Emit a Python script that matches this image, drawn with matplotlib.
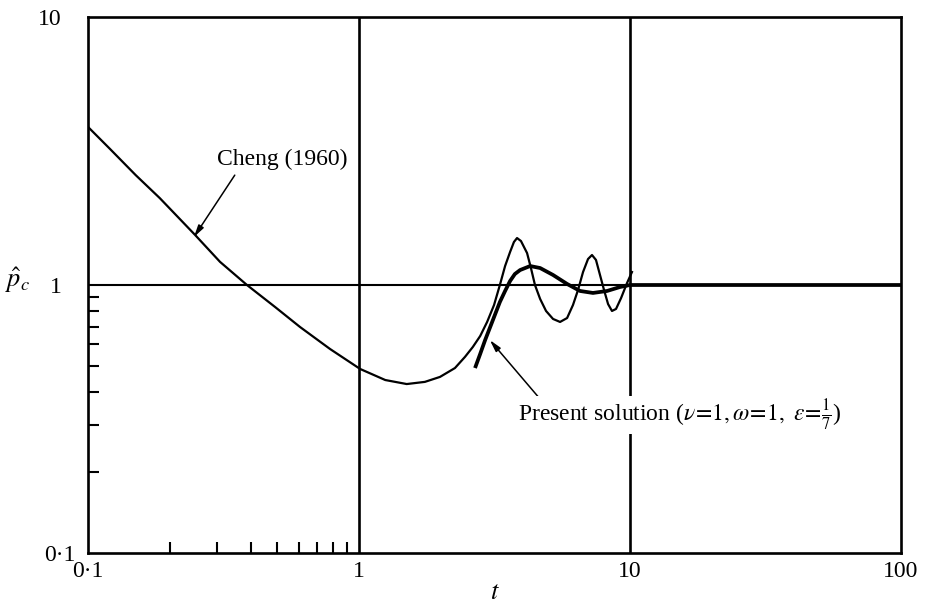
import matplotlib
matplotlib.use("Agg")
import matplotlib.pyplot as plt
import matplotlib.transforms as mtransforms

plt.rcParams['font.family'] = ['Liberation Serif', 'DejaVu Serif']
plt.rcParams['mathtext.fontset'] = 'stix'

# Cheng (1960) curve
cheng_t = [0.1, 0.1205, 0.150, 0.184, 0.248, 0.307, 0.386, 0.490, 0.606, 0.782,
           1.01, 1.25, 1.50, 1.75, 1.99, 2.26, 2.46, 2.63, 2.80, 2.97, 3.15,
           3.31, 3.46, 3.61, 3.73, 3.83, 3.96, 4.17, 4.31, 4.46, 4.66, 4.90,
           5.20, 5.52, 5.86, 6.16, 6.43, 6.71, 7.00, 7.24, 7.49, 7.75, 8.02,
           8.30, 8.58, 8.88, 9.27, 9.75, 10.17]
cheng_p = [3.89, 3.22, 2.57, 2.11, 1.54, 1.22, 1.0, 0.828, 0.697, 0.577,
           0.486, 0.442, 0.427, 0.435, 0.454, 0.490, 0.539, 0.587, 0.645, 0.728, 0.842,
           1.0, 1.177, 1.328, 1.447, 1.497, 1.459, 1.316, 1.157, 1.0, 0.887, 0.800,
           0.747, 0.728, 0.753, 0.842, 0.958, 1.118, 1.250, 1.294, 1.240, 1.090, 0.958,
           0.849, 0.800, 0.814, 0.894, 1.017, 1.118]

# Present solution (nu=1, omega=1, eps=1/7)
present_t = [2.68, 2.80, 2.92, 3.10, 3.31, 3.46, 3.61, 3.76, 3.93, 4.28, 4.66,
             5.20, 5.86, 6.54, 7.30, 8.23, 9.19, 10.0, 100.0]
present_p = [0.490, 0.553, 0.623, 0.728, 0.864, 0.950, 1.035, 1.099, 1.137, 1.177, 1.157,
             1.090, 1.009, 0.950, 0.934, 0.950, 0.983, 1.0, 1.0]

xticks = [0.1, 1, 10, 100]
xticklabels = ['0·1', '1', '10', '100']
yticks = [0.1, 1, 10]
yticklabels = ['0·1', '1', '10']
minor_ticks = [0.2, 0.3, 0.4, 0.5, 0.6, 0.7, 0.8, 0.9]

fig = plt.figure(figsize=(9.25, 6.1), dpi=100)
ax = fig.add_axes([88 / 925, 1 - 553 / 610, 813 / 925, 536 / 610])
ax.set_xscale('log')
ax.set_yscale('log')
ax.set_xlim(0.1, 100)
ax.set_ylim(0.1, 10)

# reference lines
ax.axvline(1, color='black', lw=1.9)
ax.axvline(10, color='black', lw=1.9)
ax.axhline(1, color='black', lw=1.5)

ax.plot(cheng_t, cheng_p, color='black', lw=1.6, solid_joinstyle='round')
ax.plot(present_t, present_p, color='black', lw=2.7, solid_capstyle='butt',
        solid_joinstyle='round')

for s in ax.spines.values():
    s.set_linewidth(1.9)

ax.set_xticks(xticks)
ax.set_xticklabels(xticklabels)
ax.set_yticks(yticks)
ax.set_yticklabels(yticklabels)
ax.set_xticks(minor_ticks, minor=True)
ax.set_yticks(minor_ticks, minor=True)
ax.set_xticklabels([], minor=True)
ax.set_yticklabels([], minor=True)
ax.tick_params(which='major', length=0, labelsize=17)
ax.tick_params(axis='x', which='major', pad=6)
ax.tick_params(axis='y', which='major', pad=19)
ax.tick_params(which='minor', direction='in', length=8, width=1.5)

# nudge the lower y label a bit right, as in the original
lab = ax.yaxis.get_major_ticks()[0].label1
lab.set_transform(lab.get_transform() + mtransforms.ScaledTranslation(0.14, 0, fig.dpi_scale_trans))

ax.set_xlabel('$t$', fontsize=19, labelpad=0)
ax.set_ylabel(r'$\hat{p}_c$', fontsize=19, rotation=0, ha='center', va='center')
ax.yaxis.set_label_coords(-0.086, 0.51)

arrow = dict(arrowstyle='-|>,head_length=0.7,head_width=0.18', color='black', lw=1.1,
             shrinkA=0, shrinkB=0)
ax.annotate('', xy=(0.246, 1.51), xytext=(0.348, 2.57), arrowprops=arrow)
ax.text(0.30, 2.8, 'Cheng (1960)', fontsize=17, ha='left', va='baseline')

ax.annotate('', xy=(3.04, 0.623), xytext=(4.77, 0.365), arrowprops=arrow)
ax.text(3.86, 0.312,
        r'Present solution ($\nu\!=\!1, \omega\!=\!1,\ \epsilon\!=\!\frac{1}{7}$)',
        fontsize=17, ha='left', va='baseline',
        bbox=dict(fc='white', ec='none', pad=1))

fig.savefig('out.png', dpi=100)
